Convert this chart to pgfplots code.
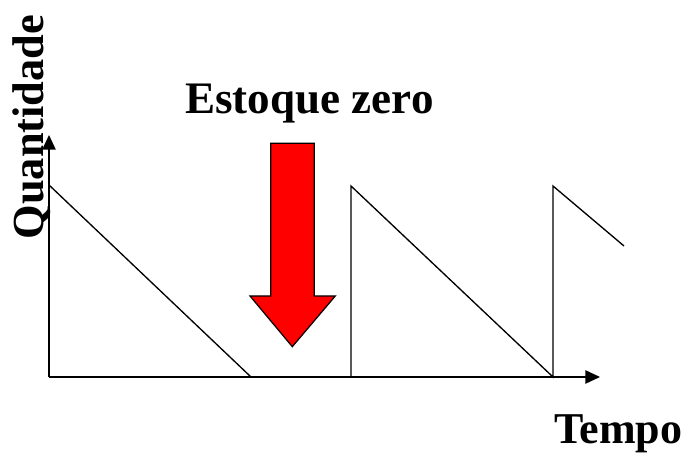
\documentclass[border=0pt]{standalone}
\usepackage{fontspec}
\setmainfont{Liberation Serif}
\usepackage{pgfplots}
\pgfplotsset{compat=1.18}
\usetikzlibrary{arrows.meta}
\begin{document}
\begin{tikzpicture}
\begin{axis}[
  width=516.75pt, height=339pt, scale only axis,
  xmin=0, xmax=689, ymin=0, ymax=452,
  hide axis, clip=false,
]
\path (axis cs:0,0) rectangle (axis cs:689,452);
% axes with arrows
\addplot[black, line width=1.2pt, -{Triangle[length=11pt,width=10pt]}] coordinates {(49,75) (49,317)};
\addplot[black, line width=1.2pt, -{Triangle[length=11pt,width=10pt]}] coordinates {(49,75) (600,75)};
% sawtooth
\addplot[black, line width=1pt, line join=miter] coordinates {
 (49,267) (251,75) (351,75) (351,266) (553,75) (553,266) (624,206)};
% red arrow
\addplot[fill=red, draw=black, line width=0.9pt] coordinates {
 (270.7,308.7) (314.3,308.7) (314.3,156) (335.3,156) (292.3,105.3) (250,156) (270.7,156) (270.7,308.7)} -- cycle;
\node[anchor=base west, inner sep=0pt, font=\bfseries\fontsize{33.8}{40}\selectfont] at (axis cs:185,338.7) {Estoque zero};
\node[anchor=base west, inner sep=0pt, font=\bfseries\fontsize{33}{40}\selectfont] at (axis cs:554,9) {Tempo};
\node[anchor=base, rotate=90, inner sep=0pt, font=\bfseries\fontsize{33.3}{40}\selectfont] at (axis cs:43,325) {Quantidade};
\end{axis}
\end{tikzpicture}
\end{document}
